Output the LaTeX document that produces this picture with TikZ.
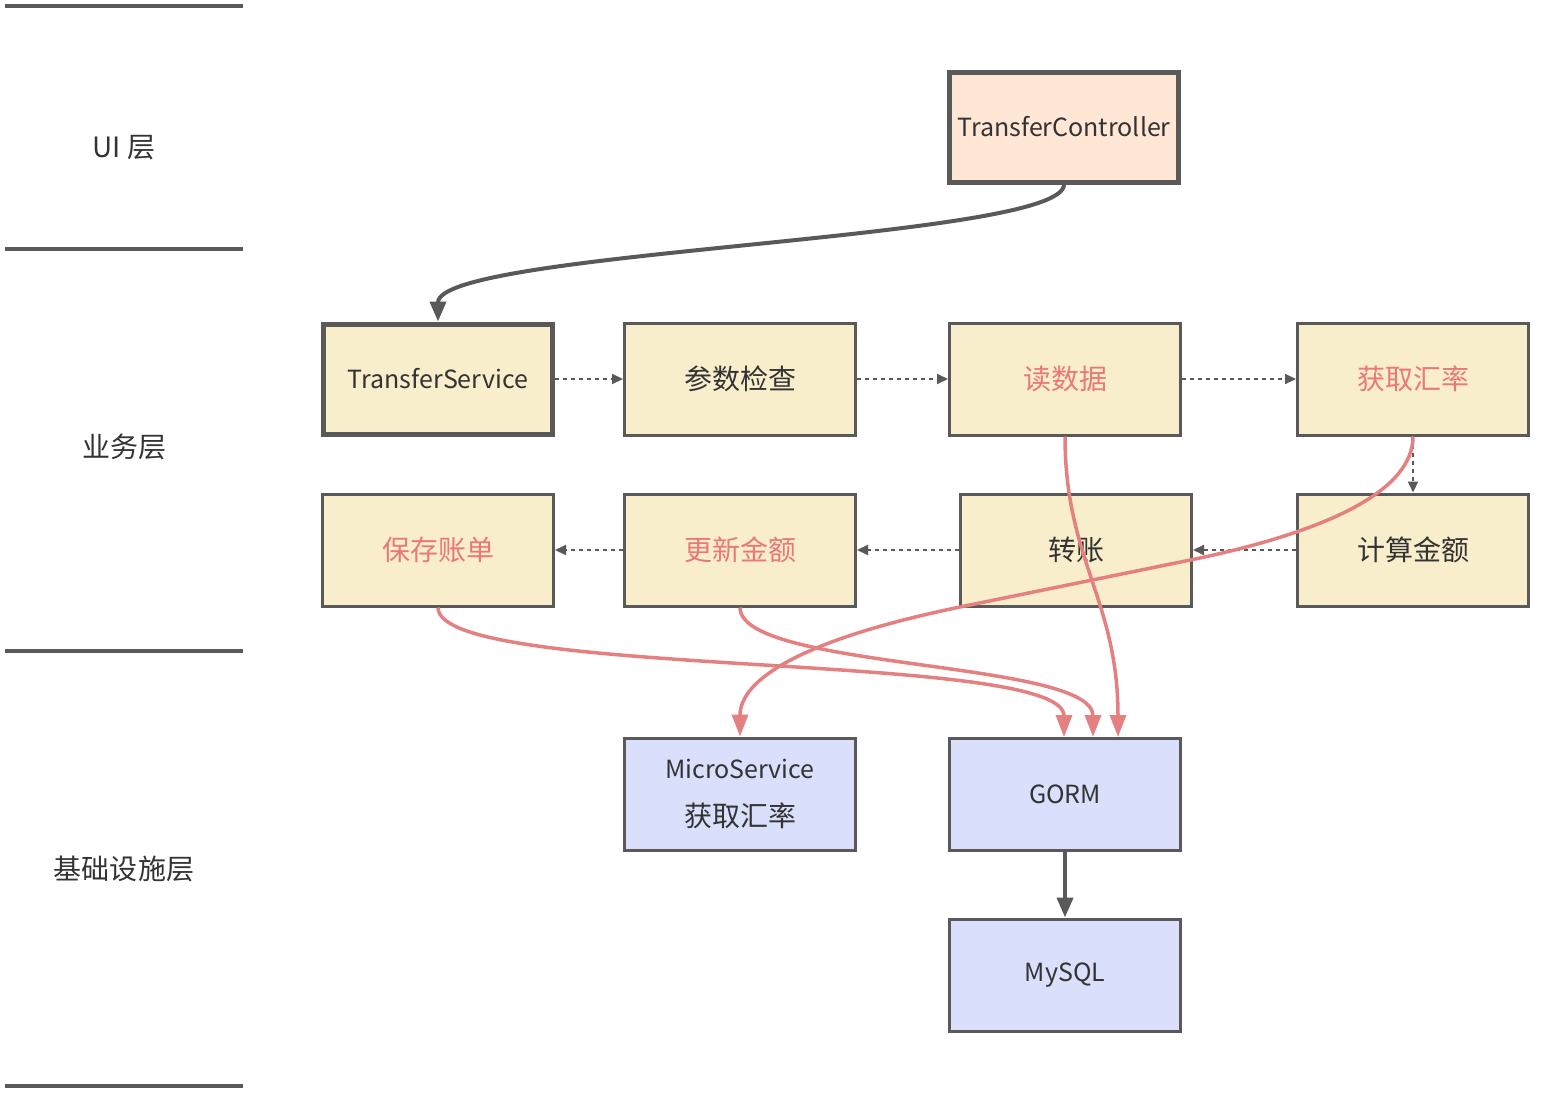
\documentclass[tikz,border=0pt]{standalone}
\usepackage{fontspec}
\setmainfont{Noto Sans CJK SC}
\usepackage{tikz}
\usetikzlibrary{arrows.meta}

\definecolor{edge}{RGB}{89,89,89}
\definecolor{ink}{RGB}{51,51,51}
\definecolor{redline}{RGB}{229,128,128}
\definecolor{redtext}{RGB}{234,120,120}
\definecolor{bizfill}{RGB}{249,238,204}
\definecolor{uifill}{RGB}{255,230,213}
\definecolor{infrafill}{RGB}{218,223,251}

\begin{document}
\begin{tikzpicture}[x=0.5pt,y=-0.5pt,
  font=\fontsize{14}{16}\selectfont, text=ink,
  latin/.style={font=\fontsize{12.5}{15}\selectfont},
  box/.style={draw=edge,line width=1.5pt,minimum width=115.5pt,minimum height=56pt,inner sep=0pt,fill=bizfill},
  mainbox/.style={box,line width=2.5pt,minimum width=114.5pt,minimum height=55pt},
  infra/.style={box,fill=infrafill},
  layer/.style={draw=edge,line width=2pt},
  flow/.style={draw=edge,line width=1pt,dash pattern=on 2pt off 2pt,-{Triangle[length=5.5pt,width=5pt]}},
  call/.style={draw=edge,line width=2pt,-{Triangle[length=10pt,width=8pt]}},
  dep/.style={draw=redline,line width=1.75pt,-{Triangle[length=11pt,width=8pt]}}]

\useasboundingbox (0,0) rectangle (1541,1092);

% layers
\draw[layer] (5,6) -- (243,6);
\draw[layer] (5,249) -- (243,249);
\draw[layer] (5,651) -- (243,651);
\draw[layer] (5,1086) -- (243,1086);
\node (uilabel) at (124,148) {UI 层};
\node (bizlabel) at (124,447) {业务层};
\node (infralabel) at (124,869) {基础设施层};

% UI
\node[mainbox,latin,fill=uifill] (ctrl) at (1064,127) {TransferController};

% business
\node[mainbox,latin] (svc) at (438,379) {TransferService};
\node[box] (check) at (740,379) {参数检查};
\node[box,text=redtext] (read) at (1065,379) {读数据};
\node[box,text=redtext] (rate) at (1413,379) {获取汇率};
\node[box] (calc) at (1413,550) {计算金额};
\node[box] (trans) at (1076,550) {转账};
\node[box,text=redtext] (upd) at (740,550) {更新金额};
\node[box,text=redtext] (save) at (438,550) {保存账单};

% infrastructure
\node[infra,align=center] (micro) at (740,794) {{\fontsize{12.5}{15}\selectfont MicroService}\\[8pt]获取汇率};
\node[infra,latin] (gorm) at (1065,794) {GORM};
\node[infra,latin] (mysql) at (1065,975) {MySQL};

% calls
\draw[call] (ctrl.south) .. controls (1064,240) and (438,250) .. (svc.north);
\draw[call] (gorm) -- (mysql);

\draw[flow] (svc) -- (check);
\draw[flow] (check) -- (read);
\draw[flow] (read) -- (rate);
\draw[flow] (rate) -- (calc);
\draw[flow] (calc) -- (trans);
\draw[flow] (trans) -- (upd);
\draw[flow] (upd) -- (save);

% dependencies on infrastructure
\draw[dep] (read.south) .. controls (1065,560) and (1118,600) .. (1118,737);
\draw[dep] (upd.south) .. controls (740,670) and (1093,660) .. (1093,737);
\draw[dep] (save.south) .. controls (438,680) and (1064,650) .. (1064,737);
\draw[dep] (rate.south) .. controls (1413,490) and (1330,530) .. (1200,558)
  -- (960,607) .. controls (800,640) and (740,680) .. (micro.north);

\end{tikzpicture}
\end{document}
